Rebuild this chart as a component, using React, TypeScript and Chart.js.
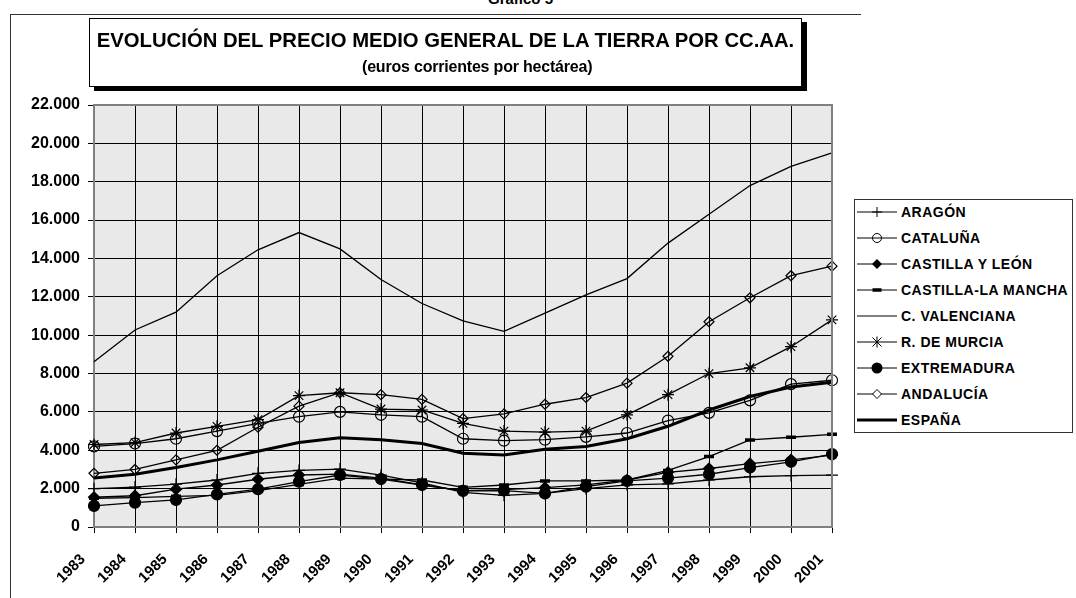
import React, { useEffect, useRef } from 'react';
import { Chart, registerables } from 'chart.js';

Chart.register(...registerables);

const years = ['1983', '1984', '1985', '1986', '1987', '1988', '1989', '1990', '1991', '1992', '1993', '1994', '1995', '1996', '1997', '1998', '1999', '2000', '2001'];

const aragon = [2000, 2080, 2230, 2450, 2800, 2950, 3020, 2700, 2300, 1800, 1650, 1750, 2000, 2200, 2250, 2450, 2620, 2680, 2700];
const cataluna = [4200, 4350, 4600, 5000, 5400, 5750, 6000, 5850, 5750, 4600, 4500, 4550, 4700, 4900, 5550, 5950, 6600, 7450, 7650];
const castillaLeon = [1550, 1630, 1970, 2190, 2490, 2710, 2760, 2550, 2200, 1900, 1950, 2050, 2200, 2450, 2850, 3050, 3300, 3500, 3750];
const castillaMancha = [1500, 1530, 1600, 1650, 1900, 2220, 2550, 2500, 2450, 2070, 2190, 2400, 2400, 2450, 2950, 3670, 4540, 4680, 4830];
const valenciana = [8620, 10270, 11200, 13100, 14450, 15350, 14500, 12900, 11650, 10750, 10200, 11150, 12100, 12950, 14800, 16300, 17800, 18800, 19500];
const murcia = [4300, 4400, 4900, 5250, 5600, 6850, 7000, 6150, 6100, 5400, 5000, 4950, 5000, 5850, 6900, 8000, 8300, 9400, 10800];
const extremadura = [1100, 1270, 1410, 1700, 1970, 2360, 2710, 2500, 2190, 1880, 1900, 1750, 2100, 2400, 2550, 2750, 3100, 3400, 3800];
const andalucia = [2800, 3000, 3500, 4000, 5200, 6300, 7000, 6900, 6650, 5650, 5900, 6400, 6750, 7500, 8900, 10700, 11950, 13100, 13600];
const espana = [2550, 2750, 3100, 3500, 3950, 4400, 4650, 4550, 4350, 3850, 3750, 4050, 4200, 4600, 5250, 6100, 6800, 7300, 7550];

const legendLabels = ['ARAGÓN', 'CATALUÑA', 'CASTILLA Y LEÓN', 'CASTILLA-LA MANCHA', 'C. VALENCIANA', 'R. DE MURCIA', 'EXTREMADURA', 'ANDALUCÍA', 'ESPAÑA'];

const titleText = 'EVOLUCIÓN DEL PRECIO MEDIO GENERAL DE LA TIERRA POR CC.AA.';
const subtitleText = '(euros corrientes por hectárea)';
const chartNumber = 'Gráfico 5';

const FONT = '"Liberation Sans", Arial, Helvetica, sans-serif';

function fmt(v: number): string {
  const s = Math.round(v).toString();
  return s.replace(/\B(?=(\d{3})+(?!\d))/g, '.');
}

function LegendMarker({ kind }: { kind: string }) {
  const cx = 20;
  const cy = 6;
  let marker: any = null;
  if (kind === 'cross') {
    marker = (<g stroke="#000" strokeWidth={1}><line x1={cx - 5} y1={cy} x2={cx + 5} y2={cy} /><line x1={cx} y1={cy - 5} x2={cx} y2={cy + 5} /></g>);
  } else if (kind === 'circleOpen') {
    marker = <circle cx={cx} cy={cy} r={4.5} fill="none" stroke="#000" strokeWidth={1} />;
  } else if (kind === 'diamondFilled') {
    marker = <polygon points={`${cx},${cy - 5} ${cx + 5},${cy} ${cx},${cy + 5} ${cx - 5},${cy}`} fill="#000" />;
  } else if (kind === 'dash') {
    marker = <rect x={cx - 4.5} y={cy - 1.75} width={9} height={3.5} fill="#000" />;
  } else if (kind === 'star') {
    marker = (<g stroke="#000" strokeWidth={1}><line x1={cx - 4.5} y1={cy - 4.5} x2={cx + 4.5} y2={cy + 4.5} /><line x1={cx - 4.5} y1={cy + 4.5} x2={cx + 4.5} y2={cy - 4.5} /><line x1={cx} y1={cy - 5.5} x2={cx} y2={cy + 5.5} /></g>);
  } else if (kind === 'circleFilled') {
    marker = <circle cx={cx} cy={cy} r={5.5} fill="#000" />;
  } else if (kind === 'diamondOpen') {
    marker = <polygon points={`${cx},${cy - 4.5} ${cx + 4.5},${cy} ${cx},${cy + 4.5} ${cx - 4.5},${cy}`} fill="#fff" stroke="#000" strokeWidth={1} />;
  }
  return (
    <svg width={40} height={12} style={{ position: 'absolute', left: 0, top: 0 }}>
      <line x1={0} y1={cy} x2={40} y2={cy} stroke="#000" strokeWidth={kind === 'thick' ? 3 : 1} />
      {marker}
    </svg>
  );
}

const legendKinds = ['cross', 'circleOpen', 'diamondFilled', 'dash', 'none', 'star', 'circleFilled', 'diamondOpen', 'thick'];

export default function App() {
  const ref = useRef<HTMLCanvasElement>(null);

  useEffect(() => {
    if (!ref.current) return;
    const plotPlugin = {
      id: 'plotFrame',
      beforeDraw(chart: any) {
        const { ctx, chartArea: a } = chart;
        ctx.save();
        ctx.fillStyle = '#e9e9e9';
        ctx.fillRect(a.left, a.top, a.right - a.left, a.bottom - a.top);
        ctx.restore();
      },
      afterDraw(chart: any) {
        const { ctx, chartArea: a } = chart;
        ctx.save();
        ctx.strokeStyle = '#808080';
        ctx.lineWidth = 2;
        ctx.beginPath();
        ctx.moveTo(a.left, a.top);
        ctx.lineTo(a.right, a.top);
        ctx.lineTo(a.right, a.bottom);
        ctx.stroke();
        // category labels of the x scale, rotated 45 degrees
        const xs = chart.scales.x;
        ctx.fillStyle = '#000';
        ctx.font = `bold 15px ${FONT}`;
        ctx.textAlign = 'right';
        ctx.textBaseline = 'middle';
        const labels = chart.data.labels as string[];
        labels.forEach((lab: string, i: number) => {
          const px = xs.getPixelForTick(i);
          ctx.save();
          ctx.translate(px - 11, a.bottom + 30);
          ctx.rotate(-Math.PI / 4);
          ctx.fillText(lab, 0, 0);
          ctx.restore();
        });
        ctx.restore();
      },
    };

    const base = {
      borderColor: '#000',
      borderWidth: 1.3,
      pointBorderColor: '#000',
      pointBorderWidth: 1.2,
      tension: 0,
      fill: false,
    };

    const chart = new Chart(ref.current, {
      type: 'line',
      data: {
        labels: years,
        datasets: [
          { ...base, label: legendLabels[0], data: aragon, pointStyle: 'cross', pointRadius: 6, pointBackgroundColor: '#000' },
          { ...base, label: legendLabels[1], data: cataluna, pointStyle: 'circle', pointRadius: 5.5, pointBackgroundColor: 'rgba(0,0,0,0)' },
          { ...base, label: legendLabels[2], data: castillaLeon, pointStyle: 'rectRot', pointRadius: 5.5, pointBackgroundColor: '#000' },
          { ...base, label: legendLabels[3], data: castillaMancha, pointStyle: 'line', pointRadius: 5, pointBorderWidth: 3.5, pointBackgroundColor: '#000' },
          { ...base, label: legendLabels[4], data: valenciana, pointRadius: 0 },
          { ...base, label: legendLabels[5], data: murcia, pointStyle: 'star', pointRadius: 6, pointBackgroundColor: '#000' },
          { ...base, label: legendLabels[6], data: extremadura, pointStyle: 'circle', pointRadius: 5.5, pointBackgroundColor: '#000' },
          { ...base, label: legendLabels[7], data: andalucia, pointStyle: 'rectRot', pointRadius: 5, pointBackgroundColor: 'rgba(0,0,0,0)' },
          { ...base, label: legendLabels[8], data: espana, borderWidth: 3, pointRadius: 0 },
        ],
      },
      options: {
        animation: false,
        responsive: false,
        maintainAspectRatio: false,
        devicePixelRatio: 1,
        layout: { padding: { left: 10, right: 244, top: 105, bottom: 0 } },
        plugins: { legend: { display: false }, tooltip: { enabled: false }, title: { display: false } },
        scales: {
          x: {
            type: 'category',
            offset: false,
            grid: { color: '#000', lineWidth: 1, tickLength: 6, tickColor: '#000', drawTicks: true },
            border: { color: '#808080', width: 2 },
            ticks: { display: false, autoSkip: false },
            afterFit(s: any) { s.height = 71; },
          },
          y: {
            min: 0,
            max: 22000,
            grid: { color: '#000', lineWidth: 1, tickLength: 6, tickColor: '#000', drawTicks: true },
            border: { color: '#808080', width: 2 },
            ticks: {
              stepSize: 2000,
              color: '#000',
              font: { family: FONT, size: 16, weight: 'bold' },
              padding: 8,
              callback: (v: any) => fmt(Number(v)),
            },
            afterFit(s: any) { s.width = 84; },
          },
        },
      },
      plugins: [plotPlugin],
    } as any);
    return () => chart.destroy();
  }, []);

  return (
    <div style={{ position: 'fixed', left: 0, top: 0, width: 1076, height: 598, overflow: 'hidden', background: '#fff', fontFamily: FONT }}>
      <div style={{ position: 'absolute', left: 10, top: 14, width: 850, height: 700, borderTop: '1px solid #333', borderLeft: '1px solid #333' }} />
      <div style={{ position: 'absolute', left: 488, top: -9, fontSize: 15, fontWeight: 'bold', lineHeight: '16px', whiteSpace: 'nowrap' }}>{chartNumber}</div>
      <canvas ref={ref} width={1076} height={598} style={{ position: 'absolute', left: 0, top: 0, width: 1076, height: 598 }} />
      <div style={{ position: 'absolute', left: 89, top: 18, width: 711, height: 67, border: '1px solid #000', background: '#fff', boxShadow: '5px 4px 0 #000' }}>
        <div style={{ position: 'absolute', left: -20, right: -20, top: 10, textAlign: 'center', fontSize: 20.3, fontWeight: 'bold', lineHeight: '22px', whiteSpace: 'nowrap' }}>{titleText}</div>
        <div style={{ position: 'absolute', left: 272, top: 39, fontSize: 16, fontWeight: 'bold', lineHeight: '18px', whiteSpace: 'nowrap', letterSpacing: '-0.2px' }}>{subtitleText}</div>
      </div>
      <div style={{ position: 'absolute', left: 854, top: 199, width: 217, height: 232, border: '1px solid #333', background: '#fff' }}>
        {legendLabels.map((lab, i) => (
          <div key={lab} style={{ position: 'absolute', left: 2, top: 6 + 26 * i, height: 12, width: 212 }}>
            <LegendMarker kind={legendKinds[i]} />
            <div style={{ position: 'absolute', left: 44, top: -3, fontSize: 14, fontWeight: 'bold', lineHeight: '18px', whiteSpace: 'nowrap', letterSpacing: '0.5px' }}>{lab}</div>
          </div>
        ))}
      </div>
    </div>
  );
}
